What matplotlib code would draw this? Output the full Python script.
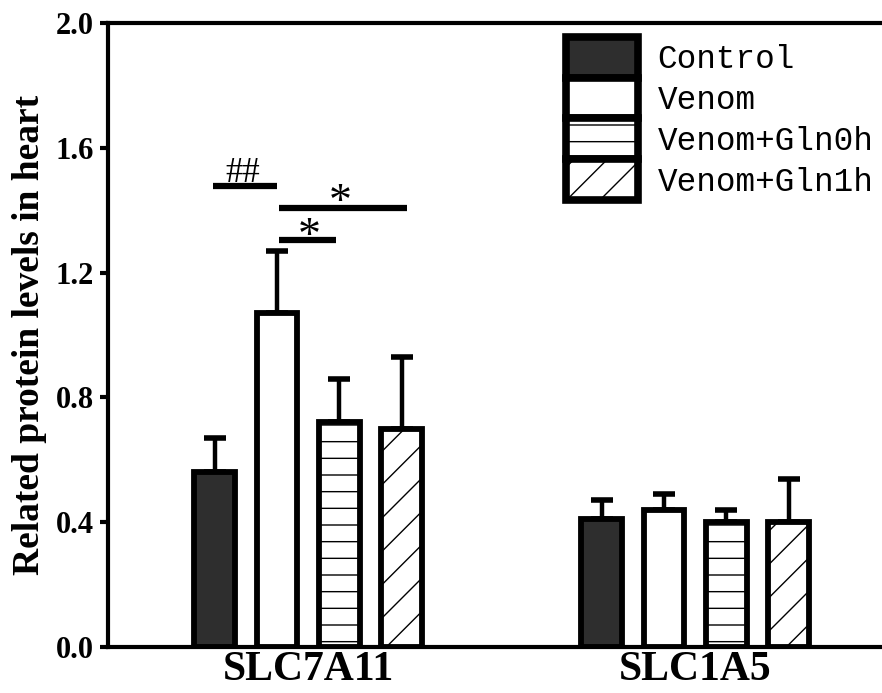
import matplotlib
matplotlib.use("Agg")
import matplotlib.pyplot as plt
import numpy as np
from matplotlib.patches import Patch

plt.rcParams['hatch.linewidth'] = 1.0
plt.rcParams['hatch.color'] = '#444444'

proteins = ["SLC7A11", "SLC1A5"]
groups = ["Control", "Venom", "Venom+Gln0h", "Venom+Gln1h"]
means = {
    "Control":     [0.56, 0.41],
    "Venom":       [1.07, 0.44],
    "Venom+Gln0h": [0.72, 0.40],
    "Venom+Gln1h": [0.70, 0.40],
}
errors = {
    "Control":     [0.11, 0.06],
    "Venom":       [0.20, 0.05],
    "Venom+Gln0h": [0.14, 0.04],
    "Venom+Gln1h": [0.23, 0.14],
}
y_ticks = [0.0, 0.4, 0.8, 1.2, 1.6, 2.0]

faces = ["#2e2e2e", "white", "white", "white"]
hatches = [None, None, "-", "/"]

fig = plt.figure(figsize=(8.82, 6.93), dpi=100)
ax = fig.add_axes([0.1224, 0.0664, 0.8776, 0.9004])

serif = ["Liberation Serif", "DejaVu Serif"]
mono = ["Liberation Mono", "DejaVu Sans Mono"]

x = np.arange(len(proteins))
step = 0.161
width = 0.105
centers = {}
for i, g in enumerate(groups):
    xi = x + (i - 1.5) * step
    centers[g] = xi
    ax.bar(xi, means[g], width, color=faces[i], edgecolor="black",
           linewidth=4.2, hatch=hatches[i], zorder=2)
    ax.errorbar(xi, means[g], yerr=[np.zeros(len(proteins)), errors[g]],
                fmt="none", ecolor="black", elinewidth=3.2, capsize=8,
                capthick=4, zorder=1)

# significance markers for SLC7A11
def sig(x0, x1, y, label, tx, ty, fs):
    ax.plot([x0, x1], [y, y], color="black", lw=4.5, solid_capstyle="butt")
    ax.text(tx, ty, label, ha="center", va="baseline", fontsize=fs,
            family=serif)

c = centers
sig(c["Control"][0] - 0.005, c["Venom"][0], 1.478, "##", -0.169, 1.490, 25)
sig(c["Venom"][0] + 0.005, c["Venom+Gln1h"][0] + 0.015, 1.407, "*",
    0.083, 1.385, 33)
sig(c["Venom"][0] + 0.005, c["Venom+Gln0h"][0] - 0.008, 1.304, "*",
    0.002, 1.275, 33)

ax.set_ylim(0, 2.0)
ax.set_xlim(-0.517, 1.483)
ax.set_yticks(y_ticks)
ax.set_yticklabels([f"{v:.1f}" for v in y_ticks], fontsize=22,
                   fontweight="bold", family=serif)
ax.set_xticks(x)
ax.set_xticklabels(proteins, fontsize=30, fontweight="bold", family=serif)
ax.tick_params(axis="x", length=0, pad=3)
ax.tick_params(axis="y", direction="out", length=6, width=3, pad=4)
ax.set_ylabel("Related protein levels in heart", fontsize=27,
              fontweight="bold", family=serif, labelpad=6)

for s in ["left", "bottom", "top"]:
    ax.spines[s].set_linewidth(3)
ax.spines["right"].set_visible(False)

handles = [Patch(facecolor=faces[i], edgecolor="black", linewidth=5.5,
                 hatch=hatches[i], label=g) for i, g in enumerate(groups)]
leg = ax.legend(handles=handles, loc="upper left",
                bbox_to_anchor=(0.592, 0.978), frameon=False,
                prop={"family": mono, "size": 23.5},
                handlelength=2.2, handleheight=1.55, labelspacing=0.0,
                handletextpad=0.6, borderpad=0, borderaxespad=0)

fig.savefig("out.png", dpi=100)
